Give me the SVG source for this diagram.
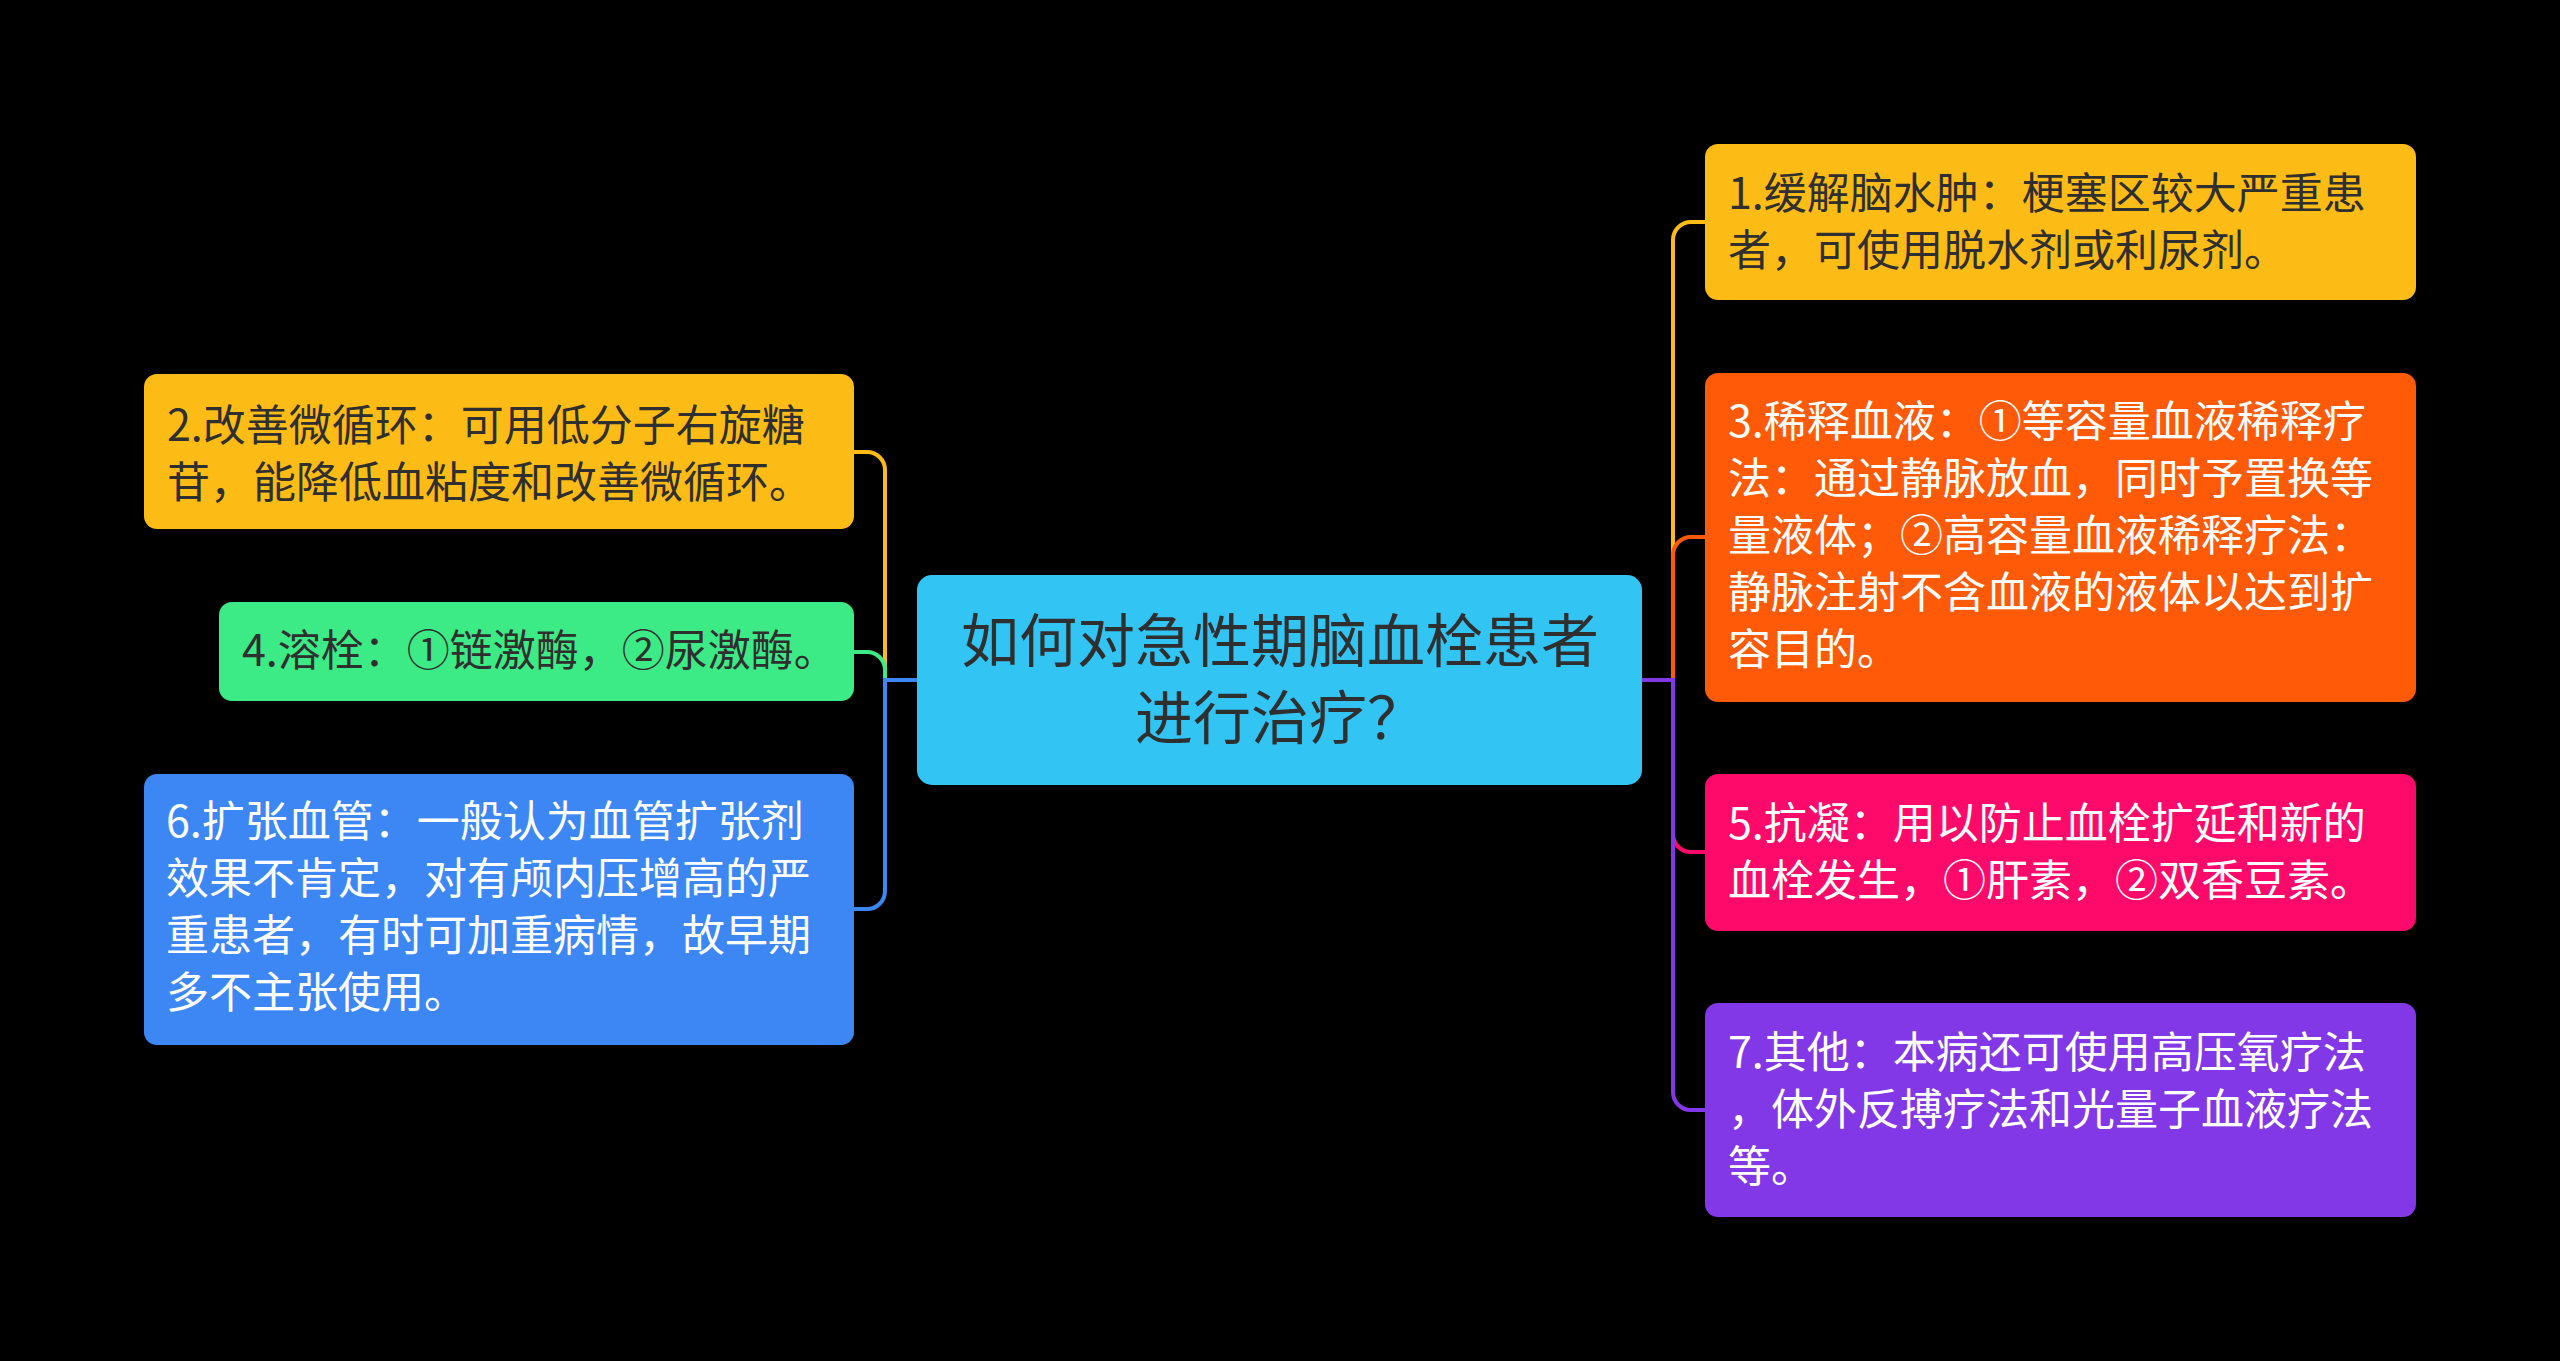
<svg xmlns="http://www.w3.org/2000/svg" width="2560" height="1361" viewBox="0 0 2560 1361">
<style>
  .t { font-family: "Noto Sans CJK SC", "Noto Sans", sans-serif; font-size: 43px; }
  .dark { fill: #2f2f2f; }
  .light { fill: #ffffff; }
  .c { fill: none; stroke-width: 4; }
</style>
<rect x="0" y="0" width="2560" height="1361" fill="#000000"/>
<g id="connectors">
  <path class="c" stroke="#FDBB16" d="M917,680 H885 V470 A18 18 0 0 0 867,452 H854"/>
  <path class="c" stroke="#3DEB86" d="M917,680 H885 V670 A18 18 0 0 0 867,652 H854"/>
  <path class="c" stroke="#3D87F5" d="M917,680 H885 V891 A18 18 0 0 1 867,909 H854"/>
  <path class="c" stroke="#FDBB16" d="M1642,680 H1673 V240 A18 18 0 0 1 1691,222 H1705"/>
  <path class="c" stroke="#FE5A08" d="M1642,680 H1673 V555 A18 18 0 0 1 1691,537 H1705"/>
  <path class="c" stroke="#FD0A6A" d="M1642,680 H1673 V834 A18 18 0 0 0 1691,852 H1705"/>
  <path class="c" stroke="#8338E8" d="M1642,680 H1673 V1092 A18 18 0 0 0 1691,1110 H1705"/>
</g>
<g id="center">
  <rect x="917" y="575" width="725" height="210" rx="15" fill="#32C5F4"/>
  <text class="t dark" text-anchor="middle" style="font-size:58px"><tspan x="1280" y="662">如何对急性期脑血栓患者</tspan><tspan x="1280" y="739">进行治疗？</tspan></text>
</g>
<g id="node1">
  <rect x="1705" y="144" width="711" height="156" rx="13" fill="#FDBB16"/>
  <text class="t dark"><tspan x="1728" y="209">1.缓解脑水肿：梗塞区较大严重患</tspan><tspan x="1728" y="266">者，可使用脱水剂或利尿剂。</tspan></text>
</g>
<g id="node2">
  <rect x="144" y="374" width="710" height="155" rx="13" fill="#FDBB16"/>
  <text class="t dark"><tspan x="167" y="441">2.改善微循环：可用低分子右旋糖</tspan><tspan x="167" y="498">苷，能降低血粘度和改善微循环。</tspan></text>
</g>
<g id="node3">
  <rect x="1705" y="373" width="711" height="329" rx="13" fill="#FE5A08"/>
  <text class="t light"><tspan x="1728" y="437">3.稀释血液：①等容量血液稀释疗</tspan><tspan x="1728" y="494">法：通过静脉放血，同时予置换等</tspan><tspan x="1728" y="551">量液体；②高容量血液稀释疗法：</tspan><tspan x="1728" y="608">静脉注射不含血液的液体以达到扩</tspan><tspan x="1728" y="665">容目的。</tspan></text>
</g>
<g id="node4">
  <rect x="219" y="602" width="635" height="99" rx="13" fill="#3DEB86"/>
  <text class="t dark"><tspan x="242" y="666">4.溶栓：①链激酶，②尿激酶。</tspan></text>
</g>
<g id="node5">
  <rect x="1705" y="774" width="711" height="157" rx="13" fill="#FD0A6A"/>
  <text class="t light"><tspan x="1728" y="839">5.抗凝：用以防止血栓扩延和新的</tspan><tspan x="1728" y="896">血栓发生，①肝素，②双香豆素。</tspan></text>
</g>
<g id="node6">
  <rect x="144" y="774" width="710" height="271" rx="13" fill="#3D87F5"/>
  <text class="t light"><tspan x="166" y="837">6.扩张血管：一般认为血管扩张剂</tspan><tspan x="166" y="894">效果不肯定，对有颅内压增高的严</tspan><tspan x="166" y="951">重患者，有时可加重病情，故早期</tspan><tspan x="166" y="1008">多不主张使用。</tspan></text>
</g>
<g id="node7">
  <rect x="1705" y="1003" width="711" height="214" rx="13" fill="#8338E8"/>
  <text class="t light"><tspan x="1728" y="1068">7.其他：本病还可使用高压氧疗法</tspan><tspan x="1728" y="1125">，体外反搏疗法和光量子血液疗法</tspan><tspan x="1728" y="1182">等。</tspan></text>
</g>
</svg>
